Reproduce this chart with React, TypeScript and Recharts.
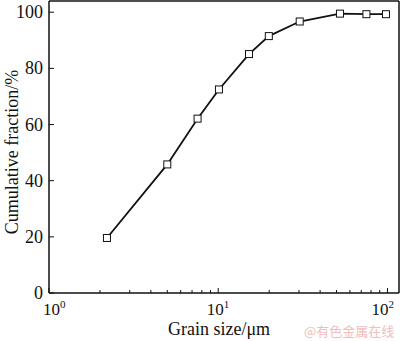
import { LineChart, Line, XAxis, YAxis, ReferenceLine } from "recharts";

const grainSize = [2.2, 5.0, 7.55, 10.1, 15.2, 19.9, 30.3, 52.4, 75.1, 98];
const cumulative = [19.6, 45.8, 62.1, 72.5, 85.1, 91.5, 96.7, 99.5, 99.3, 99.3];
const xTicks = [1, 2, 3, 4, 5, 6, 7, 8, 9, 10, 20, 30, 40, 50, 60, 70, 80, 90, 100];
const yTicks = [0, 20, 40, 60, 80, 100];

const data = grainSize.map((g, i) => ({ size: g, frac: cumulative[i] }));

const FONT = "'Liberation Serif', 'Times New Roman', serif";
const INK = "#111";
// how far left of its tick each decade label starts
const labelShift = [6, 11.5, 16];

const XTick = ({ x, y, payload }: any) => {
  const v = payload.value;
  const exp = Math.log10(v);
  const major = Math.abs(exp - Math.round(exp)) < 1e-6;
  const e = Math.round(exp);
  return (
    <g>
      <line x1={x} x2={x} y1={y} y2={y - (major ? 5 : 3)} stroke={INK} strokeWidth={1} />
      {major && (
        <text x={x - (labelShift[e] ?? 9)} y={y + 22} fontSize={17} fontFamily={FONT} fill={INK}>
          <tspan>10</tspan>
          <tspan dy={-7} fontSize={11}>{e}</tspan>
        </text>
      )}
    </g>
  );
};

const YTick = ({ x, y, payload }: any) => (
  <g>
    <line x1={x} x2={x + 5} y1={y} y2={y} stroke={INK} strokeWidth={1} />
    <text x={x - 6} y={y + 6} textAnchor="end" fontSize={18} fontFamily={FONT} fill={INK}>
      {payload.value}
    </text>
  </g>
);

const SquareDot = ({ cx, cy, index }: any) => (
  <rect key={index} x={cx - 3.5} y={cy - 3.5} width={7} height={7} fill="#fff" stroke={INK} strokeWidth={1} />
);

export default function App() {
  return (
    <div style={{ position: "absolute", left: 0, top: 0, width: 400, height: 341 }}>
      <LineChart width={400} height={341} data={data} margin={{ top: 1, right: 1, left: 0, bottom: 0 }}>
        <XAxis
          dataKey="size"
          type="number"
          scale="log"
          domain={[1, 117]}
          allowDataOverflow
          ticks={xTicks}
          interval={0}
          tick={<XTick />}
          tickLine={false}
          tickSize={0}
          tickMargin={0}
          height={48}
          axisLine={{ stroke: INK, strokeWidth: 1.5 }}
          label={{
            value: "Grain size/μm",
            position: "insideBottom",
            offset: 6,
            dx: -5,
            fontSize: 18,
            fontFamily: FONT,
            fill: INK,
          }}
        />
        <YAxis
          type="number"
          domain={[0, 104]}
          ticks={yTicks}
          interval={0}
          tick={<YTick />}
          tickLine={false}
          tickSize={0}
          tickMargin={0}
          width={49}
          axisLine={{ stroke: INK, strokeWidth: 1.5 }}
          label={{
            content: () => (
              <text
                x={12}
                y={152}
                transform="rotate(-90 12 152)"
                textAnchor="middle"
                dominantBaseline="central"
                fontSize={18}
                fontFamily={FONT}
                fill={INK}
              >
                Cumulative fraction/%
              </text>
            ),
          }}
        />
        <ReferenceLine y={104} stroke={INK} strokeWidth={1.5} />
        <ReferenceLine x={117} stroke={INK} strokeWidth={1.5} />
        <Line
          type="linear"
          dataKey="frac"
          stroke={INK}
          strokeWidth={1.8}
          dot={<SquareDot />}
          activeDot={false}
          isAnimationActive={false}
        />
      </LineChart>
      <div
        style={{
          position: "absolute",
          left: 304,
          top: 323,
          fontSize: 13,
          color: "#f2bcbc",
          fontFamily: "'Noto Sans CJK SC', sans-serif",
          lineHeight: "16px",
          whiteSpace: "nowrap",
        }}
      >
        @有色金属在线
      </div>
    </div>
  );
}
